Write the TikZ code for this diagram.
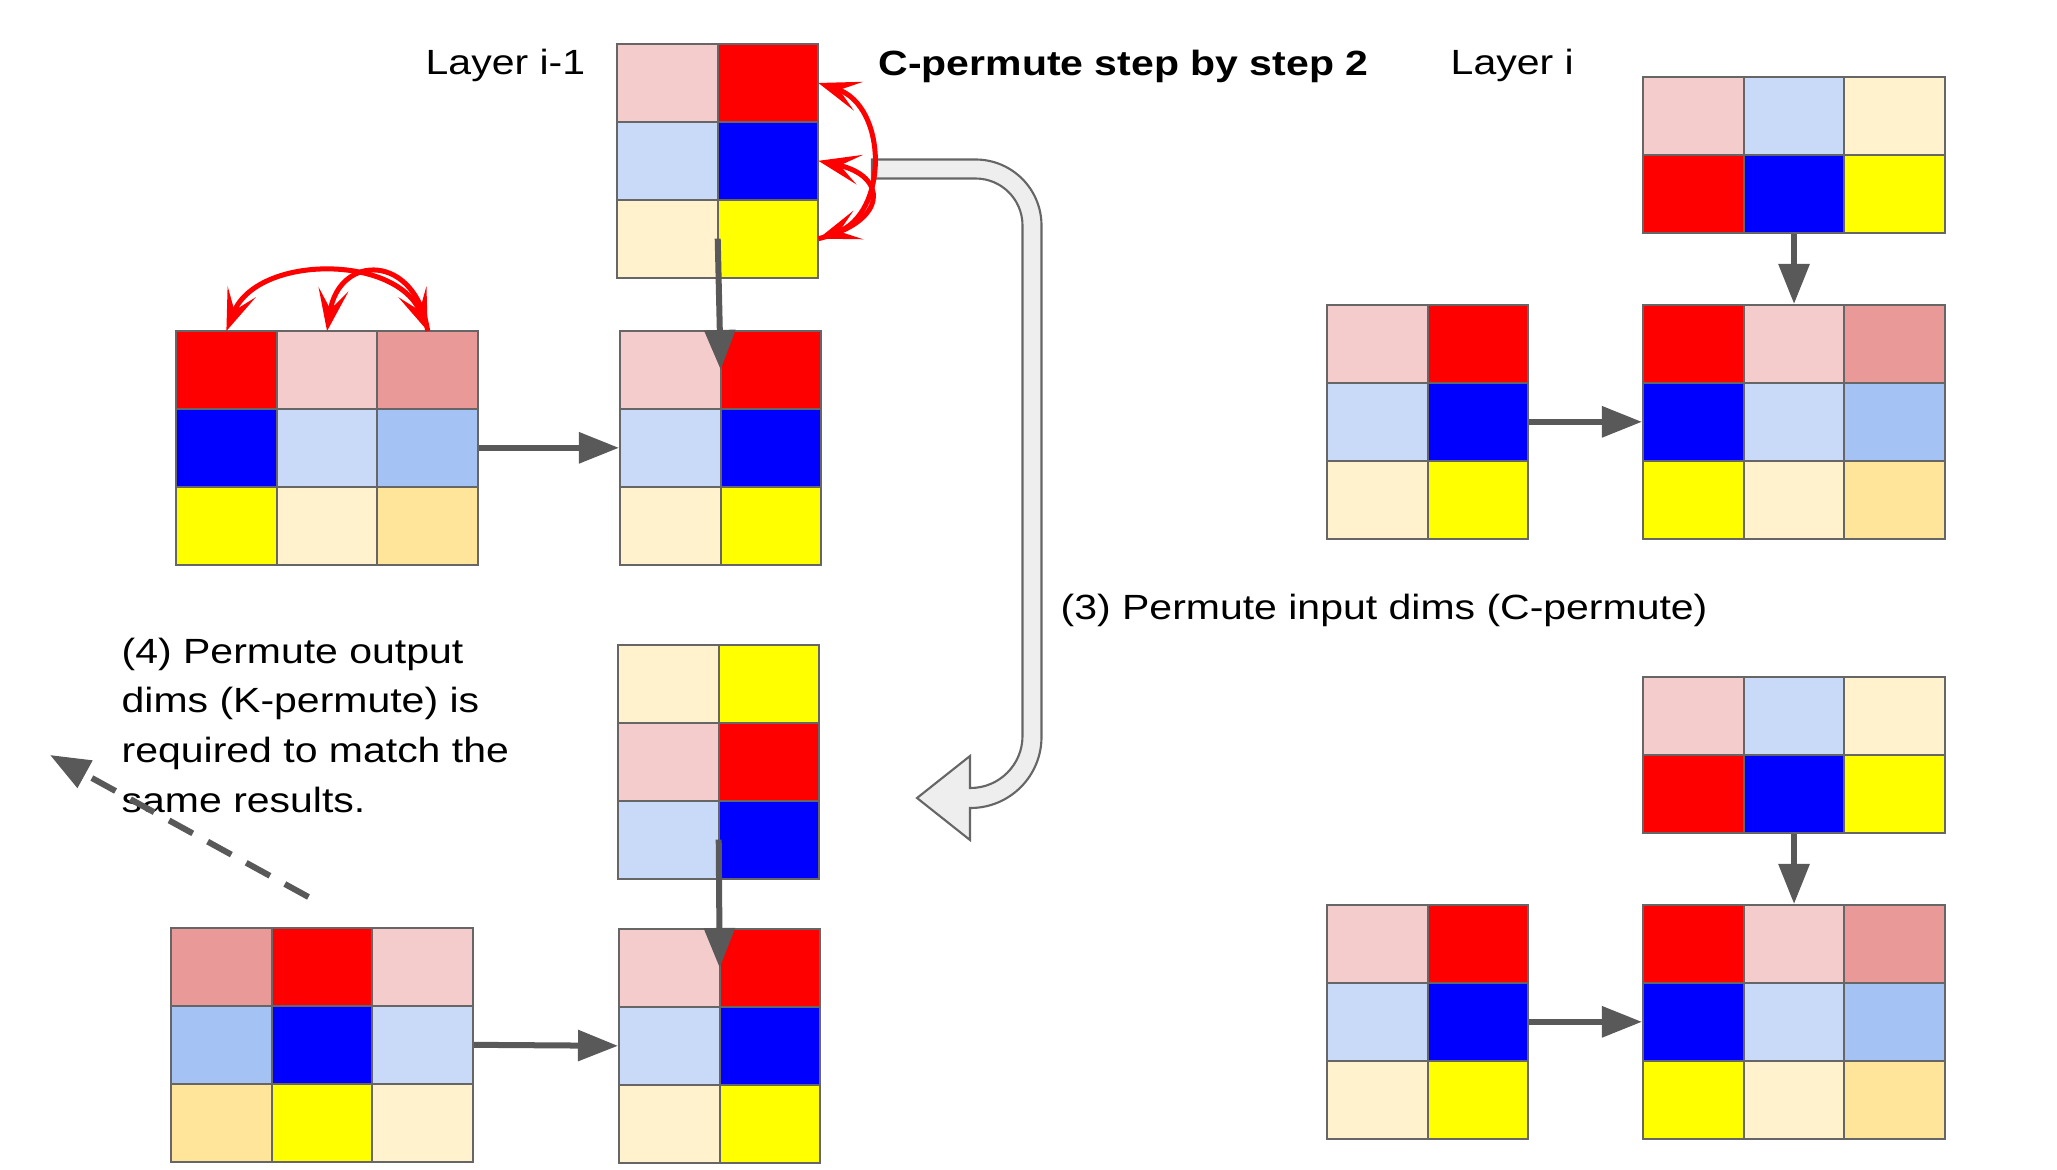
\documentclass[tikz,border=0pt]{standalone}
\usepackage{fontspec}
\setmainfont{Liberation Sans}[FakeStretch=1.17]
\usepackage{tikz}
\usetikzlibrary{arrows.meta,matrix}

\definecolor{pinkL}{HTML}{F4CCCC}
\definecolor{pinkM}{HTML}{EA9999}
\definecolor{redC}{HTML}{FF0000}
\definecolor{blueL}{HTML}{C9DAF8}
\definecolor{blueM}{HTML}{A4C2F4}
\definecolor{blueC}{HTML}{0000FF}
\definecolor{yelL}{HTML}{FFF2CC}
\definecolor{yelM}{HTML}{FFE599}
\definecolor{yelC}{HTML}{FFFF00}
\definecolor{gridgray}{HTML}{666666}
\definecolor{arrowgray}{HTML}{595959}
\definecolor{blockfill}{HTML}{EEEEEE}

\begin{document}
\begin{tikzpicture}[x=0.01cm,y=-0.01cm,
  cell/.style={draw=gridgray,line width=0.6pt,minimum width=1.006cm,minimum height=0.778cm,inner sep=0pt,outer sep=0pt},
  grid/.style={matrix of nodes,nodes in empty cells,nodes={cell},column sep=-0.6pt,row sep=-0.6pt,inner sep=0pt,outer sep=0pt,anchor=north west},
  pk/.style={fill=pinkL}, pm/.style={fill=pinkM}, rd/.style={fill=redC},
  bl/.style={fill=blueL}, bm/.style={fill=blueM}, bu/.style={fill=blueC},
  yl/.style={fill=yelL}, ym/.style={fill=yelM}, ye/.style={fill=yelC},
  lbl/.style={inner sep=0pt,anchor=base west,font=\fontsize{9.96pt}{14.14pt}\selectfont},
  grayarrow/.style={draw=arrowgray,line width=0.06cm,-{Triangle[length=0.4cm,width=0.3cm]}},
  dasharrow/.style={grayarrow,dash pattern=on 0.27cm off 0.17cm},
  redarc/.style={draw=redC,line width=0.05cm,>={Stealth[length=0.42cm,width=0.3cm,inset=0.2cm]}},
  blockarrow/.style={draw=gridgray,line width=0.6pt,fill=blockfill}]
  \useasboundingbox (0,0) rectangle (2057,1170);

  \matrix (gA) [grid] at (616,43) {
    |[pk]| & |[rd]| \\ |[bl]| & |[bu]| \\ |[yl]| & |[ye]| \\};
  \matrix (gB) [grid] at (175,330) {
    |[rd]| & |[pk]| & |[pm]| \\ |[bu]| & |[bl]| & |[bm]| \\ |[ye]| & |[yl]| & |[ym]| \\};
  \matrix (gC) [grid] at (619,330) {
    |[pk]| & |[rd]| \\ |[bl]| & |[bu]| \\ |[yl]| & |[ye]| \\};
  \matrix (gD) [grid] at (1642,76) {
    |[pk]| & |[bl]| & |[yl]| \\ |[rd]| & |[bu]| & |[ye]| \\};
  \matrix (gE) [grid] at (1326,304) {
    |[pk]| & |[rd]| \\ |[bl]| & |[bu]| \\ |[yl]| & |[ye]| \\};
  \matrix (gF) [grid] at (1642,304) {
    |[rd]| & |[pk]| & |[pm]| \\ |[bu]| & |[bl]| & |[bm]| \\ |[ye]| & |[yl]| & |[ym]| \\};
  \matrix (gG) [grid] at (617,644) {
    |[yl]| & |[ye]| \\ |[pk]| & |[rd]| \\ |[bl]| & |[bu]| \\};
  \matrix (gH) [grid] at (618,928) {
    |[pk]| & |[rd]| \\ |[bl]| & |[bu]| \\ |[yl]| & |[ye]| \\};
  \matrix (gI) [grid] at (170,927) {
    |[pm]| & |[rd]| & |[pk]| \\ |[bm]| & |[bu]| & |[bl]| \\ |[ym]| & |[ye]| & |[yl]| \\};
  \matrix (gD2) [grid] at (1642,676) {
    |[pk]| & |[bl]| & |[yl]| \\ |[rd]| & |[bu]| & |[ye]| \\};
  \matrix (gE2) [grid] at (1326,904) {
    |[pk]| & |[rd]| \\ |[bl]| & |[bu]| \\ |[yl]| & |[ye]| \\};
  \matrix (gF2) [grid] at (1642,904) {
    |[rd]| & |[pk]| & |[pm]| \\ |[bu]| & |[bl]| & |[bm]| \\ |[ye]| & |[yl]| & |[ym]| \\};

  \node[lbl] (layerprev) at (425,75) {Layer i-1};
  \node[lbl,font=\fontsize{9.96pt}{14.14pt}\selectfont\bfseries] (steptitle) at (878,76) {C-permute step by step 2};
  \node[lbl] (layercur) at (1450,75) {Layer i};
  \node[lbl] (cpermnote) at (1060,619) {(3) Permute input dims (C-permute)};
  \node[lbl,align=left] (kpermnote) at (121,812.4) {(4) Permute output\\dims (K-permute) is\\required to match the\\same results.};

  \draw[blockarrow] (872,159.5) -- (975.5,159.5) .. controls (1012,159.5) and (1041.5,189) .. (1041.5,225.5)
    -- (1041.5,737) .. controls (1041.5,776.2) and (1009.7,808) .. (970.5,808) -- (970,808) -- (970,840)
    -- (917,798) -- (970,756) -- (970,788) -- (970.5,788) .. controls (999.2,788) and (1022.5,764.7) .. (1022.5,736)
    -- (1022.5,225.5) .. controls (1022.5,199.5) and (1001.5,178.5) .. (975.5,178.5) -- (872,178.5) -- cycle;

  \draw[grayarrow] (gA-3-2.west) -- (gC-1-2.west);
  \draw[grayarrow] (gB.east) -- (gC.west);
  \draw[grayarrow] (gD.south) -- (gF.north);
  \draw[grayarrow] (gE.east) -- (gF.west);
  \draw[grayarrow] (gD2.south) -- (gF2.north);
  \draw[grayarrow] (gE2.east) -- (gF2.west);
  \draw[grayarrow] (gG-3-2.west) -- (gH-1-2.west);
  \draw[grayarrow] (gI.east) -- (gH.west);

  \coordinate (dashtail) at (308.5,897);
  \coordinate (dashtip) at (50,755);
  \draw[dasharrow] (dashtail) -- (dashtip);

  \draw[redarc,<->] (gB-1-3.north) .. controls +(-30,-77) and +(30,-77) .. (gB-1-1.north);
  \draw[redarc,->] (gB-1-3.north) .. controls +(-12,-78) and +(12,-78) .. (gB-1-2.north);
  \draw[redarc,<->] (gA-1-2.east) .. controls +(70,23) and +(70,-24) .. (gA-3-2.east);
  \draw[redarc,->] (gA-3-2.east) .. controls +(70,-17) and +(70,15) .. (gA-2-2.east);
\end{tikzpicture}
\end{document}
